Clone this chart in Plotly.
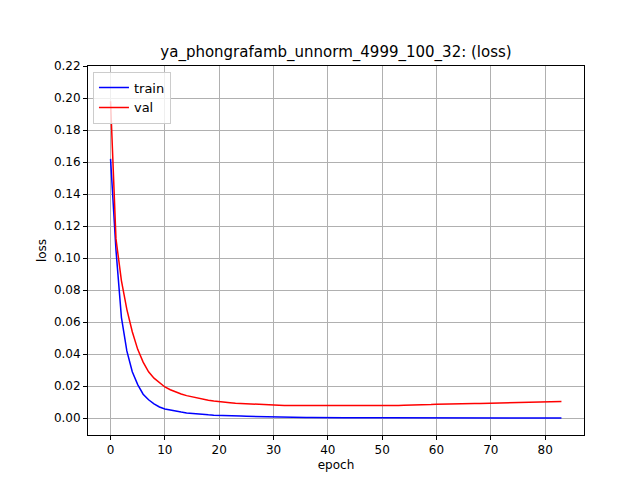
import plotly.graph_objects as go

epochs = list(range(84))
train = [0.162, 0.105, 0.063, 0.042, 0.029, 0.021, 0.015, 0.0115, 0.009, 0.007,
         0.0058, 0.005, 0.0043, 0.0038, 0.0033, 0.0029, 0.0026, 0.0023, 0.0021, 0.0019,
         0.0017, 0.0016, 0.0015, 0.0014, 0.0013, 0.0012, 0.0011, 0.0010, 0.0009, 0.0009,
         0.0008, 0.0007, 0.0007, 0.0006, 0.0006, 0.0005, 0.0005, 0.0005, 0.0004, 0.0004,
         0.0004, 0.0003, 0.0003, 0.0003, 0.0003, 0.0002, 0.0002, 0.0002, 0.0002, 0.0002,
         0.0002, 0.0002, 0.0001, 0.0001, 0.0001, 0.0001, 0.0001, 0.0001, 0.0001, 0.0001,
         0.0001, 0.0001, 0.0001, 0.0001, 0.0001, 0.0001, 0.0001, 0.0001, 0.0001, 0.0001,
         0.0001, 0.0001, 0.0001, 0.0001, 0.0001, 0.0001, 0.0001, 0.0001, 0.0001, 0.0001,
         0.0001, 0.0001, 0.0001, 0.0001]
val = [0.198, 0.112, 0.086, 0.068, 0.054, 0.043, 0.035, 0.029, 0.025, 0.022,
       0.0195, 0.0178, 0.0163, 0.0151, 0.0141, 0.0133, 0.0125, 0.0118, 0.0112, 0.0107,
       0.0102, 0.0099, 0.0096, 0.0093, 0.0091, 0.0089, 0.0087, 0.0086, 0.0084, 0.0083,
       0.0082, 0.0081, 0.0080, 0.0080, 0.0079, 0.0078, 0.0078, 0.0077, 0.0077, 0.0076,
       0.0076, 0.0076, 0.0076, 0.0076, 0.0077, 0.0077, 0.0077, 0.0078, 0.0078, 0.0078,
       0.0079, 0.0079, 0.0080, 0.0080, 0.0081, 0.0081, 0.0082, 0.0083, 0.0084, 0.0085,
       0.0087, 0.0087, 0.0088, 0.0088, 0.0089, 0.0089, 0.0090, 0.0091, 0.0092, 0.0093,
       0.0094, 0.0094, 0.0095, 0.0096, 0.0097, 0.0098, 0.0099, 0.0100, 0.0100, 0.0104,
       0.0102, 0.0103, 0.0104, 0.0104]

fig = go.Figure()
fig.add_trace(go.Scatter(x=epochs, y=train, mode="lines", name="train", line=dict(color="blue", width=1.5)))
fig.add_trace(go.Scatter(x=epochs, y=val, mode="lines", name="val", line=dict(color="red", width=1.5)))

axis = dict(showline=True, linecolor="black", mirror=True, showgrid=True, gridcolor="#b0b0b0",
            ticks="outside", ticklen=4, tickcolor="black", zeroline=False, automargin=False,
            tickfont=dict(size=12))
fig.update_layout(
    width=640, height=480, plot_bgcolor="white", paper_bgcolor="white",
    font=dict(family="DejaVu Sans", size=12, color="black"),
    margin=dict(l=80, r=64, t=58, b=53),
    title=dict(text="ya_phongrafamb_unnorm_4999_100_32: (loss)", x=0.5125, xanchor="center", y=0.908, yanchor="middle", font=dict(size=15), automargin=False),
    xaxis=dict(axis, title=dict(text="epoch", standoff=4, font=dict(size=12)), range=[-4.15, 87.15], tickvals=list(range(0, 81, 10))),
    yaxis=dict(axis, title=dict(text="loss", standoff=4, font=dict(size=12)), range=[-0.0105, 0.22], tickvals=[i / 100 for i in range(0, 23, 2)], tickformat=".2f"),
    legend=dict(x=0.01, y=0.985, xanchor="left", yanchor="top", bordercolor="#cccccc", borderwidth=1, bgcolor="rgba(255,255,255,0.8)", font=dict(size=13)),
)
fig.write_html("out.html")
